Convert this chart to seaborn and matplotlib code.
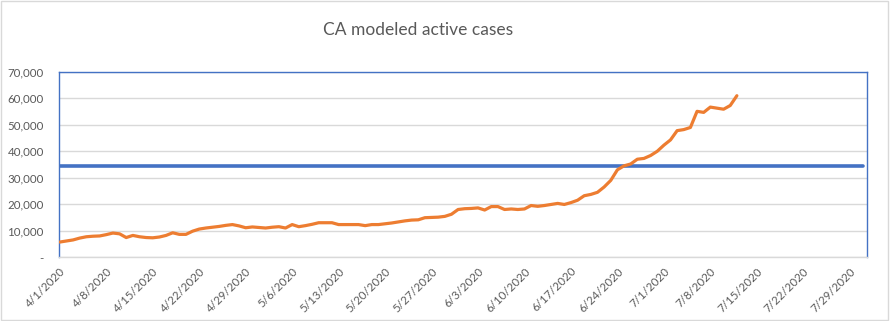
import matplotlib
matplotlib.use("Agg")
import matplotlib.pyplot as plt
from matplotlib.patches import Rectangle
from matplotlib.ticker import FuncFormatter
import matplotlib.transforms as mtransforms
import seaborn as sns
import pandas as pd

# ---- data ----
start_date = "2020-04-01"
active_cases = [
    5700, 6100, 6500, 7200, 7700, 7900, 8000, 8500, 9100, 8800,
    7400, 8200, 7700, 7400, 7300, 7600, 8200, 9200, 8600, 8600,
    9800, 10600, 11000, 11300, 11600, 12000, 12300, 11800, 11100, 11400,
    11200, 11000, 11300, 11500, 11000, 12300, 11500, 11900, 12400, 13000,
    13000, 13000, 12300, 12300, 12300, 12300, 11900, 12300, 12300, 12600,
    12900, 13300, 13700, 14000, 14100, 14900, 15000, 15100, 15400, 16200,
    18000, 18300, 18400, 18600, 17800, 19100, 19100, 18000, 18200, 18000,
    18200, 19500, 19200, 19500, 19900, 20300, 19900, 20600, 21500, 23200,
    23700, 24500, 26500, 29000, 33000, 34500, 35200, 37000, 37300, 38400,
    40000, 42300, 44300, 47800, 48200, 49000, 55100, 54700, 56700, 56300,
    55900, 57300, 61000,
]
threshold_value = 34500
threshold_end = "2020-07-31"
tick_dates = ["2020-04-01", "2020-04-08", "2020-04-15", "2020-04-22", "2020-04-29",
              "2020-05-06", "2020-05-13", "2020-05-20", "2020-05-27", "2020-06-03",
              "2020-06-10", "2020-06-17", "2020-06-24", "2020-07-01", "2020-07-08",
              "2020-07-15", "2020-07-22", "2020-07-29"]
y_ticks = [0, 10000, 20000, 30000, 40000, 50000, 60000, 70000]

cases_df = pd.DataFrame({
    "date": pd.date_range(start_date, periods=len(active_cases), freq="D"),
    "cases": active_cases,
})
thr_dates = pd.date_range(start_date, threshold_end, freq="D")
thr_df = pd.DataFrame({"date": thr_dates, "value": [threshold_value] * len(thr_dates)})

# ---- style ----
sns.set_theme(style="white")
plt.rcParams["font.family"] = ["Lato", "DejaVu Sans"]
text_col = "#595959"

fig = plt.figure(figsize=(8.9, 3.21), dpi=100)
ax = fig.add_axes([0.0663, 0.199, 0.9077, 0.577])

sns.lineplot(data=thr_df, x="date", y="value", ax=ax, color="#4472C4", linewidth=2.6, zorder=3)
sns.lineplot(data=cases_df, x="date", y="cases", ax=ax, color="#ED7D31", linewidth=2.3, zorder=4)

ax.set_ylim(0, 70000)
ax.set_xlim(pd.Timestamp(start_date) - pd.Timedelta(hours=3),
            pd.Timestamp(threshold_end) + pd.Timedelta(hours=14))
ax.set_yticks(y_ticks)
ax.yaxis.set_major_formatter(FuncFormatter(lambda v, p: "-" if v == 0 else f"{int(v):,}"))
ticks = [pd.Timestamp(d) for d in tick_dates]
ax.set_xticks(ticks)
ax.set_xticklabels([f"{t.month}/{t.day}/{t.year}" for t in ticks],
                   rotation=45, ha="right", va="top", rotation_mode="anchor")
offset = mtransforms.ScaledTranslation(3 / 100, 0, fig.dpi_scale_trans)
for lbl in ax.get_xticklabels():
    lbl.set_transform(lbl.get_transform() + offset)
ax.tick_params(axis="x", length=0, pad=6, labelsize=8.3, labelcolor=text_col)
ax.tick_params(axis="y", length=0, pad=11, labelsize=8.3, labelcolor=text_col)
ax.set_xlabel("")
ax.set_ylabel("")
ax.grid(axis="y", color="#D9D9D9", linewidth=1)
ax.set_axisbelow(True)

for side in ["top", "left", "right"]:
    ax.spines[side].set_color("#4472C4")
    ax.spines[side].set_linewidth(1.0)
ax.spines["bottom"].set_color("#D9D9D9")
ax.spines["bottom"].set_linewidth(1.0)

fig.text(0.47, 0.905, "CA modeled active cases", ha="center", va="center",
         fontsize=12.5, color=text_col)

fig.patches.append(Rectangle((0.001, 0.002), 0.997, 0.995, transform=fig.transFigure,
                             fill=False, edgecolor="#D9D9D9", linewidth=1))

fig.savefig("out.png", dpi=100)
